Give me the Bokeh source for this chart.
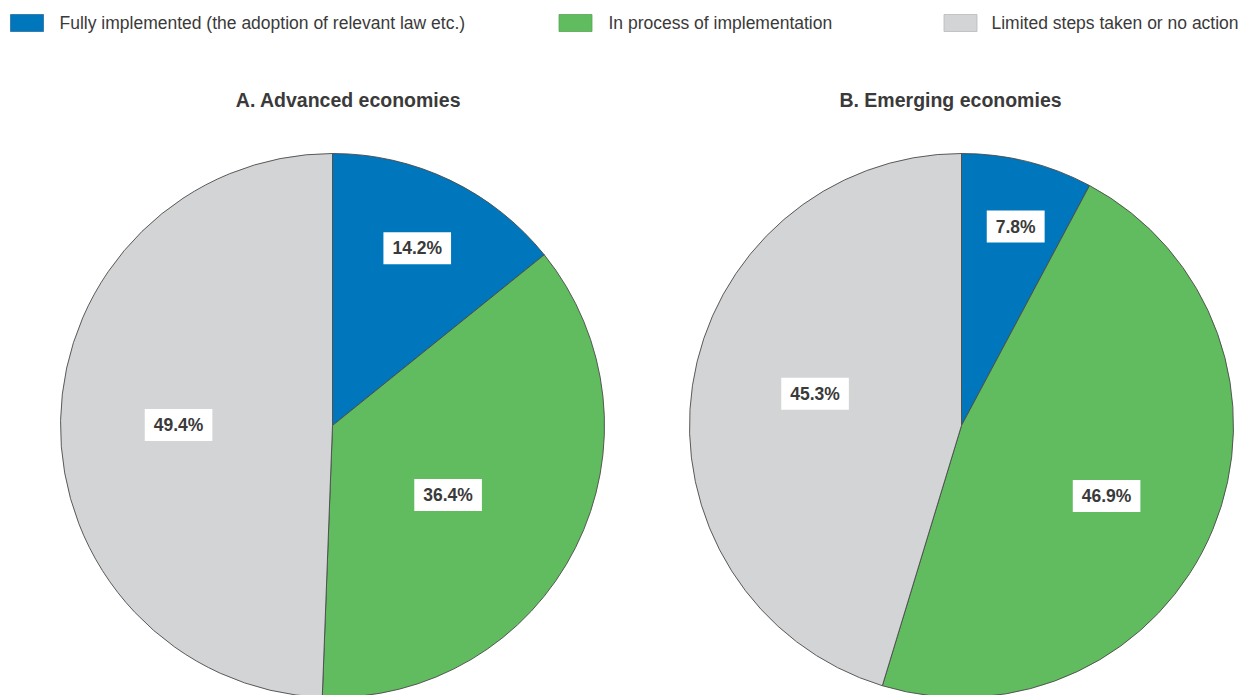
import numpy as np
from bokeh.plotting import figure
from bokeh.models import Range1d, ColumnDataSource
from bokeh.core.properties import value
from bokeh.embed import file_html
from bokeh.resources import INLINE

# ---- data ----
categories = ["Fully implemented (the adoption of relevant law etc.)",
              "In process of implementation",
              "Limited steps taken or no action"]
panels = ["A. Advanced economies", "B. Emerging economies"]
advanced = [14.2, 36.4, 49.4]
emerging = [7.8, 46.9, 45.3]

# ---- style ----
colors = ["#0077BD", "#61BC5F", "#D3D4D6"]
TXT = "#3a3a3a"
FONT = "Liberation Sans"
W, H = 1240, 695

def px(x):
    return x

def py(y):
    return H - y

p = figure(width=W, height=H, output_backend="svg", toolbar_location=None,
           x_range=Range1d(0, W), y_range=Range1d(0, H), min_border=0)
p.axis.visible = False
p.grid.visible = False
p.outline_line_color = None

centers = [(px(332), py(425)), (px(961), py(425))]
radius = 272
title_x = [px(348), px(950)]
title_y = py(99)
# label placement (fraction of radius, angle tweak in degrees)
lab_rf = [[0.722, 0.496, 0.566], [0.758, 0.593, 0.551]]
lab_da = [[0.0, 4.4, -0.9], [1.2, 3.4, 3.8]]

for k, vals in enumerate([advanced, emerging]):
    v = np.array(vals, dtype=float)
    frac = v / v.sum()
    cum = np.concatenate([[0], np.cumsum(frac)])
    start = np.pi / 2 - cum[:-1] * 2 * np.pi
    end = np.pi / 2 - cum[1:] * 2 * np.pi
    cx, cy = centers[k]
    src = ColumnDataSource(dict(x=[cx] * 3, y=[cy] * 3, s=start, e=end, c=colors))
    p.wedge(x="x", y="y", radius=radius, start_angle="s", end_angle="e",
            direction="clock", fill_color="c", line_color="#4a4a4a",
            line_width=0.9, source=src)
    mid = (cum[:-1] + cum[1:]) / 2 * 360 + np.array(lab_da[k])
    rr = np.array(lab_rf[k]) * radius
    lx = cx + rr * np.sin(np.radians(mid))
    ly = cy + rr * np.cos(np.radians(mid))
    labels = [f"{x:.1f}%" for x in vals]
    p.text(x=lx, y=ly, text=labels, text_align="center", text_baseline="middle",
           text_font=value(FONT), text_font_style="bold", text_font_size="17.5px",
           text_color=TXT, background_fill_color="white", padding=(9, 6))
    p.text(x=[title_x[k]], y=[title_y], text=[panels[k]], text_align="center",
           text_baseline="middle", text_font=value(FONT),
           text_font_style="bold", text_font_size="19.5px", text_color=TXT)

# legend
sw_x = [px(26.5), px(575), px(960)]
tx_x = [px(59), px(608), px(991)]
leg_y = py(22.5)
p.rect(x=sw_x, y=[leg_y] * 3, width=33, height=17, fill_color=colors,
       line_color=["#2a6f9e", "#55a653", "#b8b9bb"], line_width=0.8)
p.text(x=tx_x, y=[leg_y] * 3, text=categories, text_align="left",
       text_baseline="middle", text_font=value(FONT), text_font_size="17.5px",
       text_color=TXT)

open("out.html", "w").write(file_html(p, INLINE))
